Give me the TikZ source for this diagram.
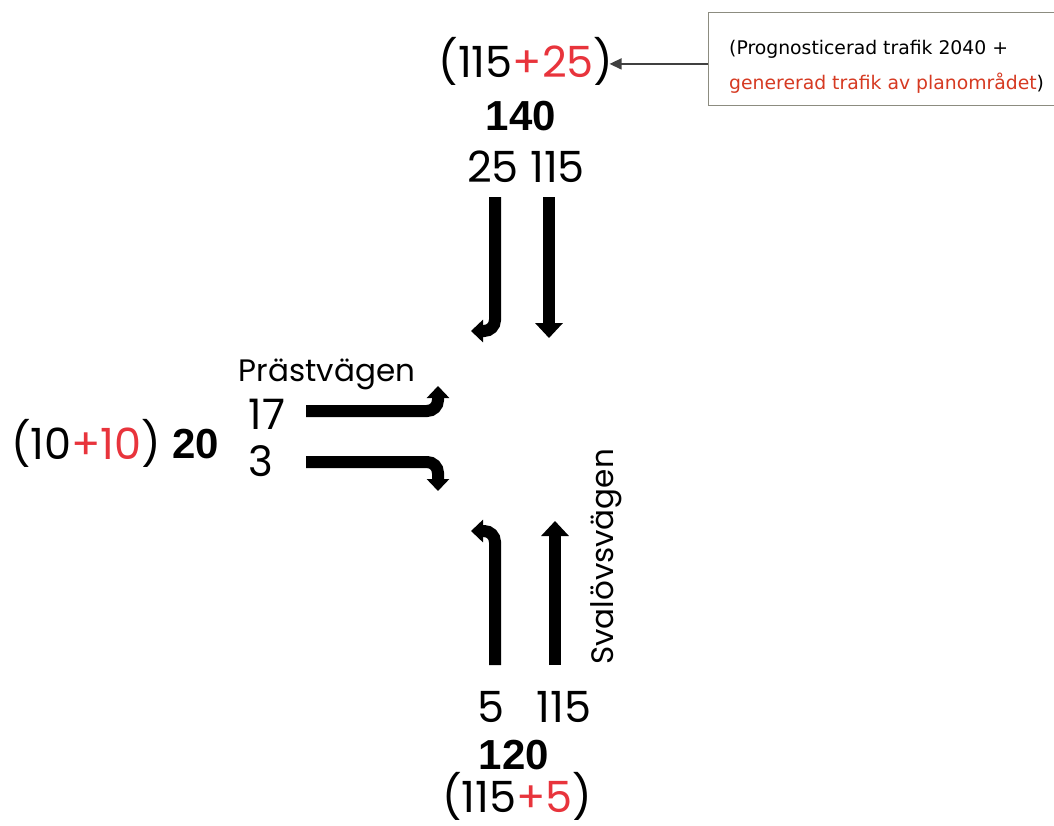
\documentclass[tikz,border=0pt]{standalone}
\usepackage{fontspec}
\setmainfont{Poppins}
\newfontfamily\boxfont{DejaVu Sans}
\newfontfamily\numbold{Liberation Sans}
\usetikzlibrary{arrows.meta}
\definecolor{numred}{HTML}{E8343C}
\definecolor{boxred}{HTML}{D63A22}
\definecolor{boxgray}{HTML}{8C8C80}
\tikzset{
  big/.style={font=\fontsize{43}{48}\selectfont, inner sep=0pt, anchor=base},
  mid/.style={font=\fontsize{42}{46}\selectfont, inner sep=0pt, anchor=base},
  road/.style={font=\fontsize{31}{36}\selectfont, inner sep=0pt},
  bnum/.style={font=\numbold\bfseries\fontsize{42}{48}\selectfont, inner sep=0pt, anchor=base},
  flow/.style={line width=12pt, -{Triangle[length=15pt,width=27pt]}},
  turn/.style={line width=12pt, -{Triangle[length=12pt,width=22pt]}},
  callout/.style={draw=boxgray, line width=1pt, fill=white},
  boxtext/.style={font=\boxfont\fontsize{18.8}{22}\selectfont, anchor=base west, inner sep=0pt},
}
\begin{document}
\begin{tikzpicture}[x=1pt,y=-1pt]
\useasboundingbox (0,0) rectangle (1054,825);
% top approach
\node[big] (t1) at (526,77) {(115\textcolor{numred}{+25})};
\node[bnum] (t2) at (521,130) {140};
\node[big] (t3) at (526,182) {25 115};
\draw[turn] (495,197) -- (495,320) to[out=-90,in=0] (484,331) -- (471,331);
\draw[flow] (549,197) -- (549,338);
% left approach
\node[road] (pv) at (327,374) {Prästvägen};
\node[mid] (l17) at (267,429) {17};
\node[mid] (l3) at (261,476) {3};
\node[big] (l1) at (86,459) {(10\textcolor{numred}{+10})};
\node[bnum] (l2) at (196,458) {20};
\draw[turn] (306,411) -- (427,411) to[out=0,in=-90] (438,400) -- (438,386);
\draw[turn] (306,462) -- (427,462) to[out=0,in=90] (438,473) -- (438,491);
% bottom approach
\draw[turn] (495,665) -- (495,542) to[out=90,in=0] (484,531) -- (471,531);
\draw[flow] (555,665) -- (555,521);
\node[road, rotate=90] (sv) at (606,557) {Svalövsvägen};
\node[big] (b5) at (491,722) {5};
\node[big] (b115) at (564,722) {115};
\node[bnum] (b2) at (514,769) {120};
\node[big] (b3) at (517,812) {(115\textcolor{numred}{+5})};
% callout
\node[callout, minimum width=360pt, minimum height=93pt, anchor=north west] (box) at (708,12) {};
\node[boxtext] (bx1) at (729,54) {(Prognosticerad trafik 2040 +};
\node[boxtext] (bx2) at (729,89) {\textcolor{boxred}{genererad trafik av planområdet})};
\coordinate (tip) at ([xshift=-4pt,yshift=-3pt]t1.east);
\draw[draw=black!75, line width=1.5pt, -{Triangle[length=12pt,width=11pt]}] (box.west |- tip) -- (tip);
\end{tikzpicture}
\end{document}
